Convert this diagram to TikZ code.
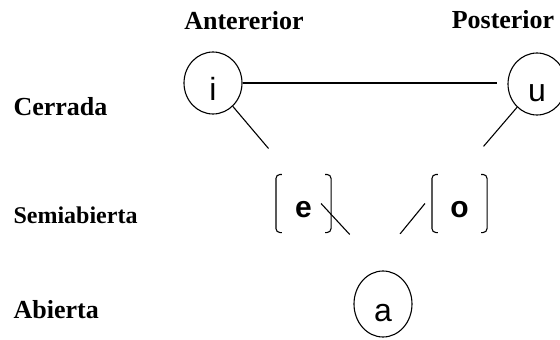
\documentclass[tikz,border=0pt]{standalone}
\usepackage{fontspec}
\setmainfont{Liberation Serif}
\newfontfamily\vowelfont{Liberation Sans}
\usetikzlibrary{shapes.geometric}

\begin{document}
\begin{tikzpicture}[x=1pt, y=-1pt, line width=1.1pt,
  rowlabel/.style={anchor=base west, inner sep=0pt, font=\fontsize{26}{30}\selectfont\bfseries},
  collabel/.style={anchor=base, inner sep=0pt, font=\fontsize{26}{30}\selectfont\bfseries},
  vowel/.style={draw, ellipse, inner sep=0pt, minimum width=58pt, minimum height=62pt,
    text height=34pt, text depth=0pt, font=\vowelfont\fontsize{32}{36}\selectfont},
  midvowel/.style={inner sep=0pt, minimum width=54pt, minimum height=57pt,
    text height=28pt, text depth=0pt, font=\vowelfont\bfseries\fontsize{30}{34}\selectfont},
  bracket/.style={rounded corners=4pt}]
  \useasboundingbox (0,0) rectangle (560,340);

  % column and row headings
  \node[collabel] (front) at (244,29) {Antererior};
  \node[collabel] (back) at (503,28) {Posterior};
  \node[rowlabel] (closed) at (13,115) {Cerrada};
  \node[rowlabel, font=\fontsize{24}{28}\selectfont\bfseries] (halfopen) at (13,223) {Semiabierta};
  \node[rowlabel] (open) at (13,318) {Abierta};

  % vowels
  \node[vowel] (i) at (213,83) {i};
  \node[vowel] (u) at (537,84) {u};
  \node[vowel, minimum height=66pt] (a) at (383,304) {a};
  \node[midvowel] (e) at (303.5,203.5) {e};
  \node[midvowel] (o) at (459.5,203.5) {o};
  \foreach \v in {e,o} {
    \draw[bracket] ([xshift=6pt]\v.north west) -- (\v.north west) -- (\v.south west) -- ([xshift=6pt]\v.south west);
    \draw[bracket] ([xshift=-6pt]\v.north east) -- (\v.north east) -- (\v.south east) -- ([xshift=-6pt]\v.south east);
  }

  \draw[shorten >=10pt] (i.east) -- (i.east -| u.west);
  \draw[shorten >=34pt] (i) -- ([xshift=-13pt]e.north);
  \draw[shorten >=37pt] (u) -- (o.north);
  \draw[shorten >=49pt] ([xshift=-10pt]e.east) -- (a.north);
  \draw[shorten <=60pt] (a.north west) -- ([xshift=-7pt]o.west);
\end{tikzpicture}
\end{document}
